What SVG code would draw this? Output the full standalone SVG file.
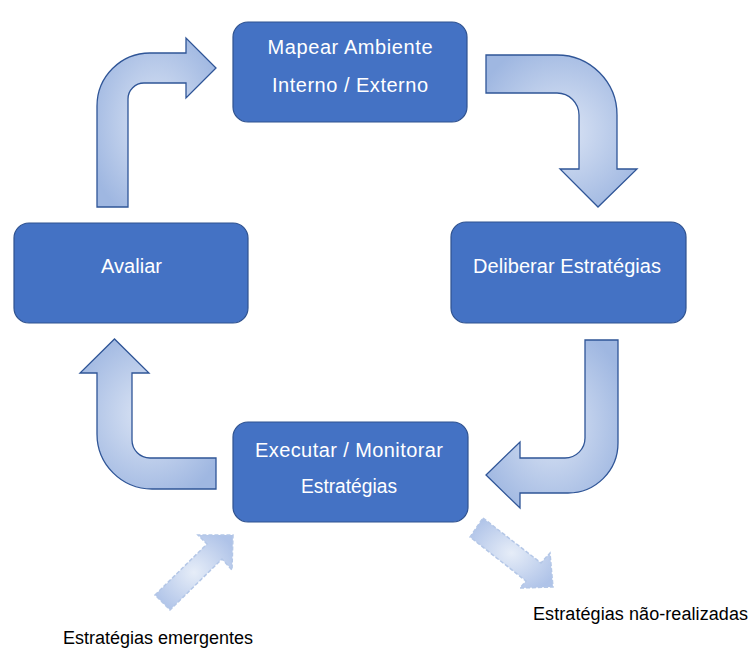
<svg xmlns="http://www.w3.org/2000/svg" width="752" height="650" viewBox="0 0 752 650">
<defs>
<radialGradient id="ag" cx="50%" cy="50%" r="60%">
<stop offset="0" stop-color="#DCE5F5"/>
<stop offset="1" stop-color="#9FB7E1"/>
</radialGradient>
<radialGradient id="dg" cx="50%" cy="50%" r="60%">
<stop offset="0" stop-color="#E6EDF8"/>
<stop offset="1" stop-color="#AFC3E8"/>
</radialGradient>
<style>
.box{fill:#4472C4;stroke:#2F528F;stroke-width:1.2}
.bt{fill:#FFFFFF;font-family:"Liberation Sans",Arial,sans-serif;font-size:20px;text-anchor:middle}
.lb{fill:#000000;font-family:"Liberation Sans",Arial,sans-serif;font-size:18px}
.arr{fill:url(#ag);stroke:#2F5597;stroke-width:1.3;stroke-linejoin:miter}
.darr{fill:url(#dg);stroke:#B4C7E7;stroke-width:1.5;stroke-dasharray:4 2}
</style>
</defs>
<rect width="752" height="650" fill="#FFFFFF"/>
<g id="connectors">
<path class="arr" d="M97,207 L97,106 A53,53 0 0 1 150,53 L186,53 L186,38 L216,68 L186,98 L186,83 L144,83 A16,16 0 0 0 128,99 L128,207 Z"/>
<path class="arr" d="M486,55 L557,55 A60,60 0 0 1 617,115 L617,169 L637,169 L598,207 L560,169 L579,169 L579,115 A22,22 0 0 0 557,93 L486,93 Z"/>
<path class="arr" d="M585,340 L618,340 L618,443 A50,50 0 0 1 568,493 L520,493 L520,508 L486,475 L520,442 L520,458 L565,458 A20,20 0 0 0 585,438 Z"/>
<path class="arr" d="M216,489 L152,489 A55,55 0 0 1 97,434 L97,373 L80,373 L114.5,339 L149,373 L132,373 L132,440 A18,18 0 0 0 150,458 L216,458 Z"/>
<path class="darr" d="M155,595 L207,544 L198,535 L233,535 L232,570 L222,559 L170,610 Z"/>
<path class="darr" d="M483,518 L541,563 L550,553 L553,587 L520,588 L526,581 L470,537 Z"/>
</g>
<g id="mapear">
<rect class="box" x="233" y="22" width="234" height="100" rx="15"/>
<text class="bt" x="350" y="54" textLength="165" lengthAdjust="spacing">Mapear Ambiente</text>
<text class="bt" x="350" y="92" textLength="156" lengthAdjust="spacing">Interno / Externo</text>
</g>
<g id="deliberar">
<rect class="box" x="451" y="222" width="235" height="101" rx="15"/>
<text class="bt" x="567" y="273" textLength="188" lengthAdjust="spacing">Deliberar Estratégias</text>
</g>
<g id="avaliar">
<rect class="box" x="14" y="223" width="234" height="100" rx="15"/>
<text class="bt" x="131.5" y="273" textLength="61" lengthAdjust="spacing">Avaliar</text>
</g>
<g id="executar">
<rect class="box" x="233" y="422" width="235" height="100" rx="15"/>
<text class="bt" x="349" y="457" textLength="188" lengthAdjust="spacing">Executar / Monitorar</text>
<text class="bt" x="349" y="493" textLength="96" lengthAdjust="spacingAndGlyphs">Estratégias</text>
</g>
<g id="labels">
<text class="lb" x="63" y="644" textLength="190" lengthAdjust="spacing">Estratégias emergentes</text>
<text class="lb" x="533" y="620" textLength="215" lengthAdjust="spacing">Estratégias não-realizadas</text>
</g>
</svg>
